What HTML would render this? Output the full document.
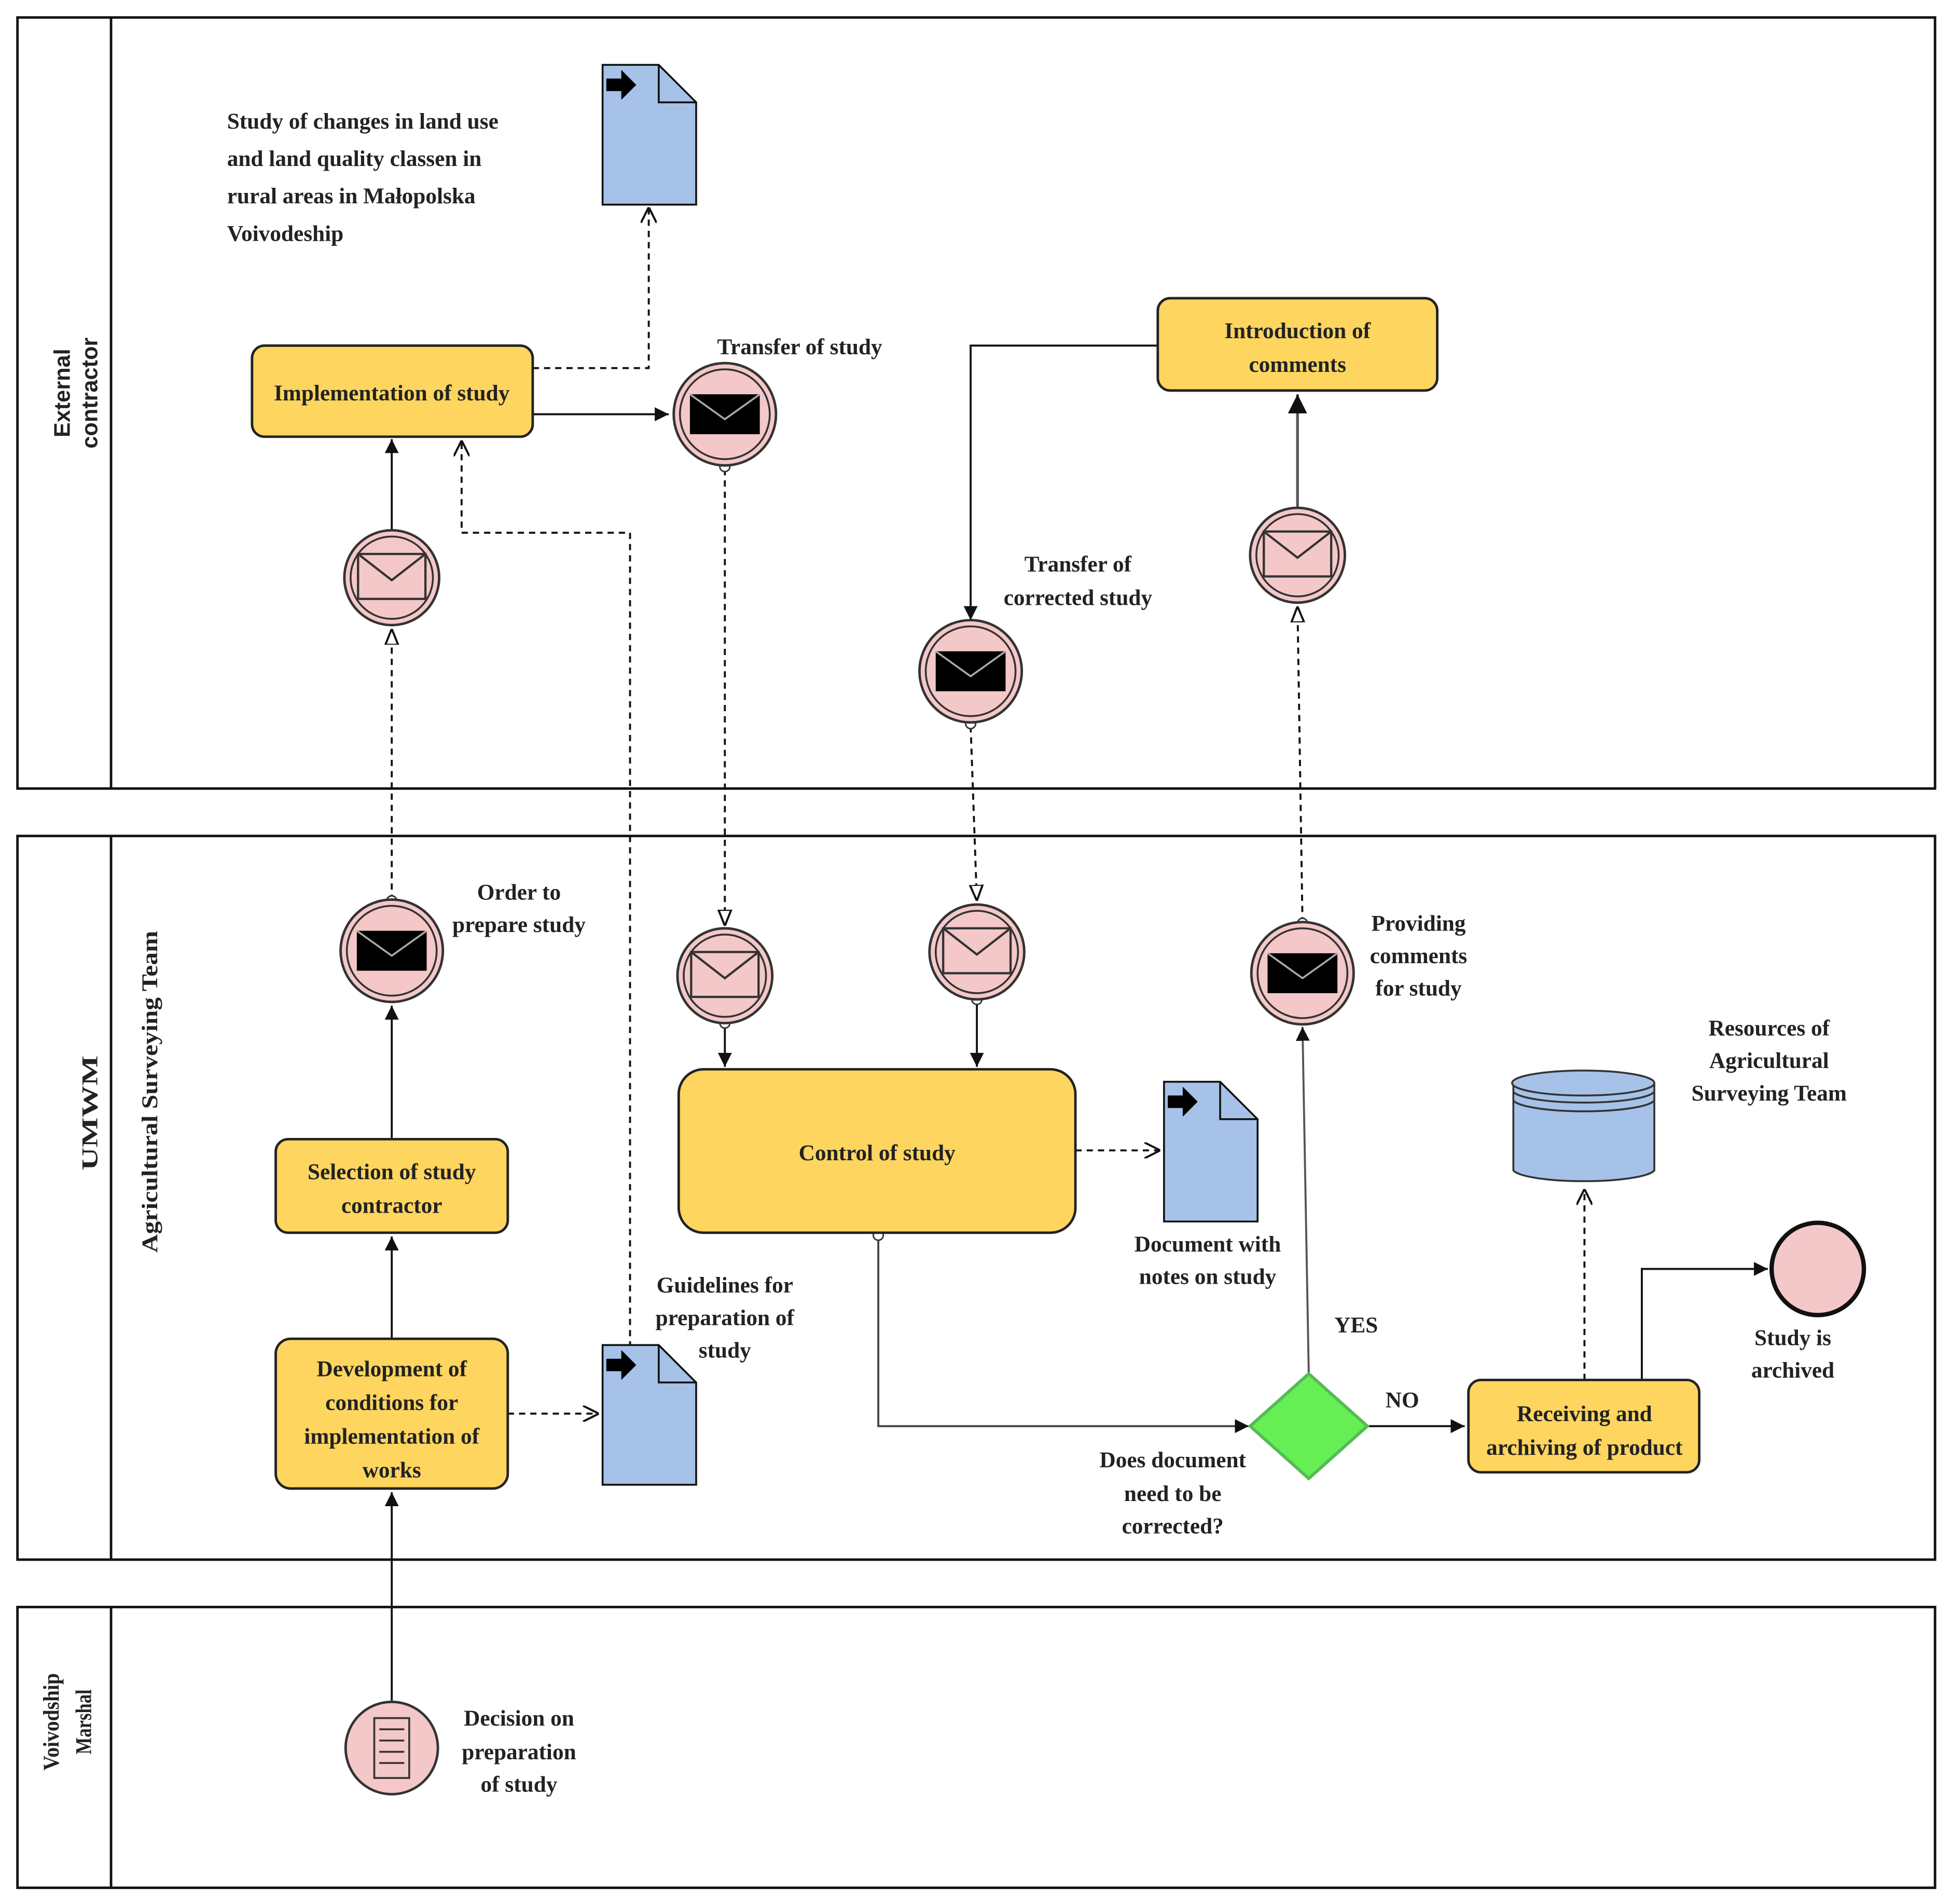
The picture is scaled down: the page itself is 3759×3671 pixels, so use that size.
<!DOCTYPE html>
<html><head><meta charset="utf-8"><style>html,body{margin:0;padding:0;background:#fff}svg{display:block}text{font-family:"Liberation Serif",serif;font-weight:bold;fill:#222;font-size:18px}</style></head><body>
<svg width="3759" height="3671" viewBox="0 0 1563 1526" preserveAspectRatio="none" xmlns="http://www.w3.org/2000/svg">
<defs>
<marker id="a" viewBox="0 0 10 10" refX="10" refY="5" markerWidth="7" markerHeight="7" orient="auto"><path d="M0,0L10,5L0,10z" fill="#111"/></marker>
<marker id="o" viewBox="0 0 10 10" refX="10" refY="5" markerWidth="8" markerHeight="8" orient="auto"><path d="M0,0L10,5L0,10" fill="none" stroke="#111" stroke-width="1.3"/></marker>
<marker id="t" viewBox="0 0 10 10" refX="10" refY="5" markerWidth="8" markerHeight="8" orient="auto"><path d="M0,1L10,5L0,9z" fill="#fff" stroke="#111" stroke-width="1.3"/></marker>
<g id="doc"><path d="M0,0H45L75,30V112H0z" fill="#a6c2e8" stroke="#111" stroke-width="1.5"/><path d="M45,0V30H75" fill="none" stroke="#111" stroke-width="1.5"/><path d="M3,11H15V4L27,16L15,28V21H3z" fill="#000"/></g>
<g id="ew"><circle r="38" fill="#f4c8c8" stroke="#333" stroke-width="2"/><circle r="33" fill="none" stroke="#333" stroke-width="1.5"/><rect x="-27" y="-19" width="54" height="36" fill="#f4c8c8" stroke="#333" stroke-width="1.8"/><path d="M-27,-19L0,2L27,-19" fill="none" stroke="#333" stroke-width="1.8"/></g>
<g id="eb"><circle r="41" fill="#f4c8c8" stroke="#333" stroke-width="2"/><circle r="36" fill="none" stroke="#333" stroke-width="1.5"/><rect x="-28" y="-16" width="56" height="32" fill="#000"/><path d="M-28,-16L0,4L28,-16" fill="none" stroke="#aaa" stroke-width="1.5"/></g>
</defs>
<g fill="none" stroke="#111" stroke-width="2">
<rect x="14" y="14" width="1537" height="618"/><line x1="89" y1="14" x2="89" y2="632"/>
<rect x="14" y="670" width="1537" height="580"/><line x1="89" y1="670" x2="89" y2="1250"/>
<rect x="14" y="1288" width="1537" height="225"/><line x1="89" y1="1288" x2="89" y2="1513"/>
</g>
<text transform="translate(56,315) rotate(-90)" text-anchor="middle" font-size="17" style="font-family:'Liberation Sans',sans-serif">External</text>
<text transform="translate(78,315) rotate(-90)" text-anchor="middle" font-size="17" style="font-family:'Liberation Sans',sans-serif">contractor</text>
<text transform="translate(78,892) rotate(-90)" text-anchor="middle" font-size="23" textLength="92" lengthAdjust="spacingAndGlyphs">UMWM</text>
<text transform="translate(126,875) rotate(-90)" text-anchor="middle" font-size="19" textLength="258" lengthAdjust="spacingAndGlyphs">Agricultural Surveying Team</text>
<text transform="translate(47,1380) rotate(-90)" text-anchor="middle" font-size="20" textLength="78" lengthAdjust="spacingAndGlyphs">Voivodship</text>
<text transform="translate(73,1380) rotate(-90)" text-anchor="middle" font-size="20" textLength="52" lengthAdjust="spacingAndGlyphs">Marshal</text>

<g fill="none" stroke="#111" stroke-width="1.6">
<path d="M427,295H520V166" stroke-dasharray="5,4" marker-end="url(#o)"/>
<path d="M427,332H536" marker-end="url(#a)"/>
<path d="M581,376V742" stroke-dasharray="5,4" marker-end="url(#t)"/>
<path d="M314,425V352" marker-end="url(#a)"/>
<path d="M314,722V504" stroke-dasharray="5,4" marker-end="url(#t)"/>
<path d="M505,1080V427H370V353" stroke-dasharray="5,4" marker-end="url(#o)"/>
<path d="M928,277H778V497" marker-end="url(#a)"/>
<path d="M778,582L783,722" stroke-dasharray="5,4" marker-end="url(#t)"/>
<path d="M1040,407V316" stroke="#555" stroke-width="2.2" marker-end="url(#a)"/>
<path d="M1044,740L1040,486" stroke-dasharray="5,4" marker-end="url(#t)"/>
<path d="M314,913V806" marker-end="url(#a)"/>
<path d="M314,1073V991" marker-end="url(#a)"/>
<path d="M407,1133H480" stroke-dasharray="5,4" marker-end="url(#o)"/>
<path d="M314,1363V1196" marker-end="url(#a)"/>
<path d="M581,820V855" marker-end="url(#a)"/>
<path d="M783,801V855" marker-end="url(#a)"/>
<path d="M862,922H930" stroke-dasharray="5,4" marker-end="url(#o)"/>
<path d="M704,990V1143H1001" stroke="#444" marker-end="url(#a)"/>
<path d="M1049,1100L1044,823" stroke="#555" marker-end="url(#a)"/>
<path d="M1096,1143H1174" marker-end="url(#a)"/>
<path d="M1270,1106V953" stroke-dasharray="5,4" marker-end="url(#o)"/>
<path d="M1316,1106V1017H1417" marker-end="url(#a)"/>
</g>
<g fill="#fff" stroke="#333" stroke-width="1.2"><circle cx="581" cy="374" r="4"/><circle cx="314" cy="722" r="4"/><circle cx="778" cy="580" r="4"/><circle cx="1044" cy="740" r="4"/><circle cx="581" cy="820" r="4"/><circle cx="783" cy="801" r="4"/><circle cx="704" cy="990" r="4"/></g>

<g fill="#fdd55f" stroke="#222" stroke-width="2">
<rect x="202" y="277" width="225" height="73" rx="10"/>
<rect x="928" y="239" width="224" height="74" rx="10"/>
<rect x="221" y="913" width="186" height="75" rx="10"/>
<rect x="221" y="1073" width="186" height="120" rx="12"/>
<rect x="544" y="857" width="318" height="131" rx="20"/>
<rect x="1177" y="1106" width="185" height="74" rx="10"/>
</g>
<g text-anchor="middle">
<text x="314" y="321">Implementation of study</text>
<text x="1040" y="271">Introduction of</text><text x="1040" y="298">comments</text>
<text x="314" y="945">Selection of study</text><text x="314" y="972">contractor</text>
<text x="314" y="1103">Development of</text><text x="314" y="1130">conditions for</text><text x="314" y="1157">implementation of</text><text x="314" y="1184">works</text>
<text x="703" y="930">Control of study</text>
<text x="1270" y="1139">Receiving and</text><text x="1270" y="1166">archiving of product</text>
</g>

<use href="#doc" x="483" y="52"/>
<use href="#doc" x="483" y="1078"/>
<use href="#doc" x="933" y="867"/>

<use href="#eb" x="581" y="332"/>
<use href="#ew" x="314" y="463"/>
<use href="#eb" x="778" y="538"/>
<use href="#ew" x="1040" y="445"/>
<use href="#eb" x="314" y="762"/>
<use href="#ew" x="581" y="782"/>
<use href="#ew" x="783" y="763"/>
<use href="#eb" x="1044" y="780"/>
<circle cx="1457" cy="1017" r="37" fill="#f4c8c8" stroke="#111" stroke-width="3.5"/>
<circle cx="314" cy="1401" r="37" fill="#f4c8c8" stroke="#333" stroke-width="2"/>
<g fill="none" stroke="#333" stroke-width="1.5"><rect x="300" y="1377" width="28" height="48"/><path d="M304,1386H324M304,1395H324M304,1404H324M304,1413H324"/></g>

<path d="M1049,1101L1096,1143L1049,1185L1002,1143z" fill="#66ee55" stroke="#55bb55" stroke-width="2.5"/>

<path d="M1213,868V938A57,10 0 0 0 1326,938V868" fill="#a6c2e8" stroke="#333" stroke-width="1.5"/>
<ellipse cx="1269" cy="868" rx="57" ry="10" fill="#a6c2e8" stroke="#333" stroke-width="1.5"/>
<path d="M1213,875A57,10 0 0 0 1326,875M1213,882A57,10 0 0 0 1326,882" fill="none" stroke="#333" stroke-width="1.5"/>

<text x="182" y="103">Study of changes in land use</text>
<text x="182" y="133">and land quality classen in</text>
<text x="182" y="163">rural areas in Małopolska</text>
<text x="182" y="193">Voivodeship</text>
<g text-anchor="middle">
<text x="641" y="284">Transfer of study</text>
<text x="864" y="458">Transfer of</text><text x="864" y="485">corrected study</text>
<text x="416" y="721">Order to</text><text x="416" y="747">prepare study</text>
<text x="581" y="1036">Guidelines for</text><text x="581" y="1062">preparation of</text><text x="581" y="1088">study</text>
<text x="968" y="1003">Document with</text><text x="968" y="1029">notes on study</text>
<text x="940" y="1176">Does document</text><text x="940" y="1203">need to be</text><text x="940" y="1229">corrected?</text>
<text x="1087" y="1068">YES</text>
<text x="1124" y="1128">NO</text>
<text x="1137" y="746">Providing</text><text x="1137" y="772">comments</text><text x="1137" y="798">for study</text>
<text x="1418" y="830">Resources of</text><text x="1418" y="856">Agricultural</text><text x="1418" y="882">Surveying Team</text>
<text x="1437" y="1078">Study is</text><text x="1437" y="1104">archived</text>
<text x="416" y="1383">Decision on</text><text x="416" y="1410">preparation</text><text x="416" y="1436">of study</text>
</g>
</svg>
</body></html>
